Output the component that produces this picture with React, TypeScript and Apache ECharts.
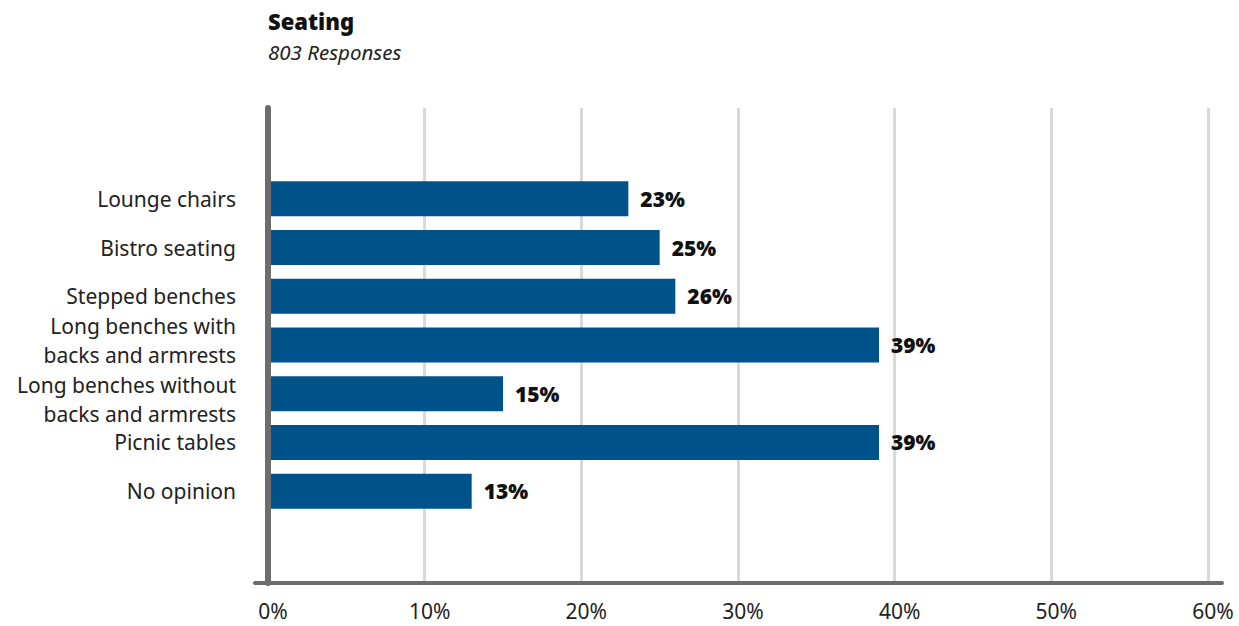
import React, { useEffect, useRef } from "react";
import * as echarts from "echarts";

const categories = [
  "Lounge chairs",
  "Bistro seating",
  "Stepped benches",
  "Long benches with\nbacks and armrests",
  "Long benches without\nbacks and armrests",
  "Picnic tables",
  "No opinion",
];
const values = [23, 25, 26, 39, 15, 39, 13];
const xTicksMax = 60;
const xTickStep = 10;
const titleText = "Seating";
const subtitleText = "803 Responses";

const FONT = "'Noto Sans', 'Open Sans', sans-serif";
const LABEL_SIZE = 21;

const lineStyle = (lh: number) => ({
  fontFamily: FONT,
  fontSize: LABEL_SIZE,
  color: "#222",
  lineHeight: lh,
  align: "right",
});

export default function App() {
  const ref = useRef<HTMLDivElement>(null);
  useEffect(() => {
    if (!ref.current) return;
    const chart = echarts.init(ref.current, undefined, { renderer: "svg" });
    // two-line labels: first of a pair sits a little high, second a little low
    const firstWrapped = categories.findIndex((c) => c.includes("\n"));
    const fmt = (value: string) => {
      const parts = value.split("\n");
      if (parts.length < 2) return `{s|${value}}`;
      const k = categories.indexOf(value);
      if (k === firstWrapped) return `{u1|${parts[0]}}\n{u2|${parts[1]}}`;
      return `{d1|${parts[0]}}\n{d2|${parts[1]}}`;
    };
    chart.setOption({
      animation: false,
      textStyle: { fontFamily: FONT },
      title: {
        text: titleText,
        subtext: subtitleText,
        left: 263,
        top: 5,
        itemGap: 10,
        textStyle: { fontFamily: FONT, fontSize: 22, fontWeight: 900, color: "#111" },
        subtextStyle: { fontFamily: FONT, fontSize: 20.5, fontStyle: "italic", color: "#222" },
      },
      grid: [
        { left: 268, right: 31, top: 108, bottom: 43 },
        { left: 268, right: 31, top: 174.5, bottom: 110.5 },
        { left: 255, right: 17, top: 108, bottom: 43 },
      ],
      xAxis: [
        {
          gridIndex: 0,
          type: "value",
          min: 0,
          max: xTicksMax,
          interval: xTickStep,
          axisLine: { show: false },
          axisTick: { show: false },
          splitLine: { show: true, lineStyle: { color: "#d9d9d9", width: 3 } },
          axisLabel: {
            formatter: "{value}%",
            fontFamily: FONT,
            fontSize: 21,
            color: "#222",
            margin: 17,
            padding: [0, 0, 0, 10],
          },
        },
        {
          gridIndex: 1,
          type: "value",
          min: 0,
          max: xTicksMax,
          show: false,
        },
        {
          gridIndex: 2,
          type: "value",
          min: 0,
          max: 1,
          axisLine: { show: true, lineStyle: { color: "#6d6d6d", width: 4 } },
          axisTick: { show: false },
          axisLabel: { show: false },
          splitLine: { show: false },
        },
      ],
      yAxis: [
        {
          gridIndex: 0,
          type: "value",
          min: 0,
          max: 1,
          z: 10,
          axisLine: { show: true, lineStyle: { color: "#6d6d6d", width: 6 } },
          axisTick: { show: false },
          axisLabel: { show: false },
          splitLine: { show: false },
        },
        {
          gridIndex: 1,
          type: "category",
          inverse: true,
          data: categories,
          axisLine: { show: false },
          axisTick: { show: false },
          axisLabel: {
            fontFamily: FONT,
            fontSize: LABEL_SIZE,
            color: "#222",
            margin: 32,
            align: "right",
            formatter: fmt,
            rich: {
              s: lineStyle(28),
              u1: lineStyle(20),
              u2: lineStyle(38),
              d1: lineStyle(40),
              d2: lineStyle(18),
            },
          },
        },
        {
          gridIndex: 2,
          type: "value",
          show: false,
        },
      ],
      series: [
        {
          type: "bar",
          xAxisIndex: 1,
          yAxisIndex: 1,
          data: values,
          barWidth: 35,
          itemStyle: { color: "#00528a" },
          label: {
            show: true,
            position: "right",
            distance: 12,
            formatter: "{c}%",
            fontFamily: FONT,
            fontSize: 21,
            fontWeight: 900,
            color: "#111",
          },
        },
      ],
    });
    return () => chart.dispose();
  }, []);
  return <div ref={ref} style={{ width: 1239, height: 626, position: "absolute", left: 0, top: 0 }} />;
}
